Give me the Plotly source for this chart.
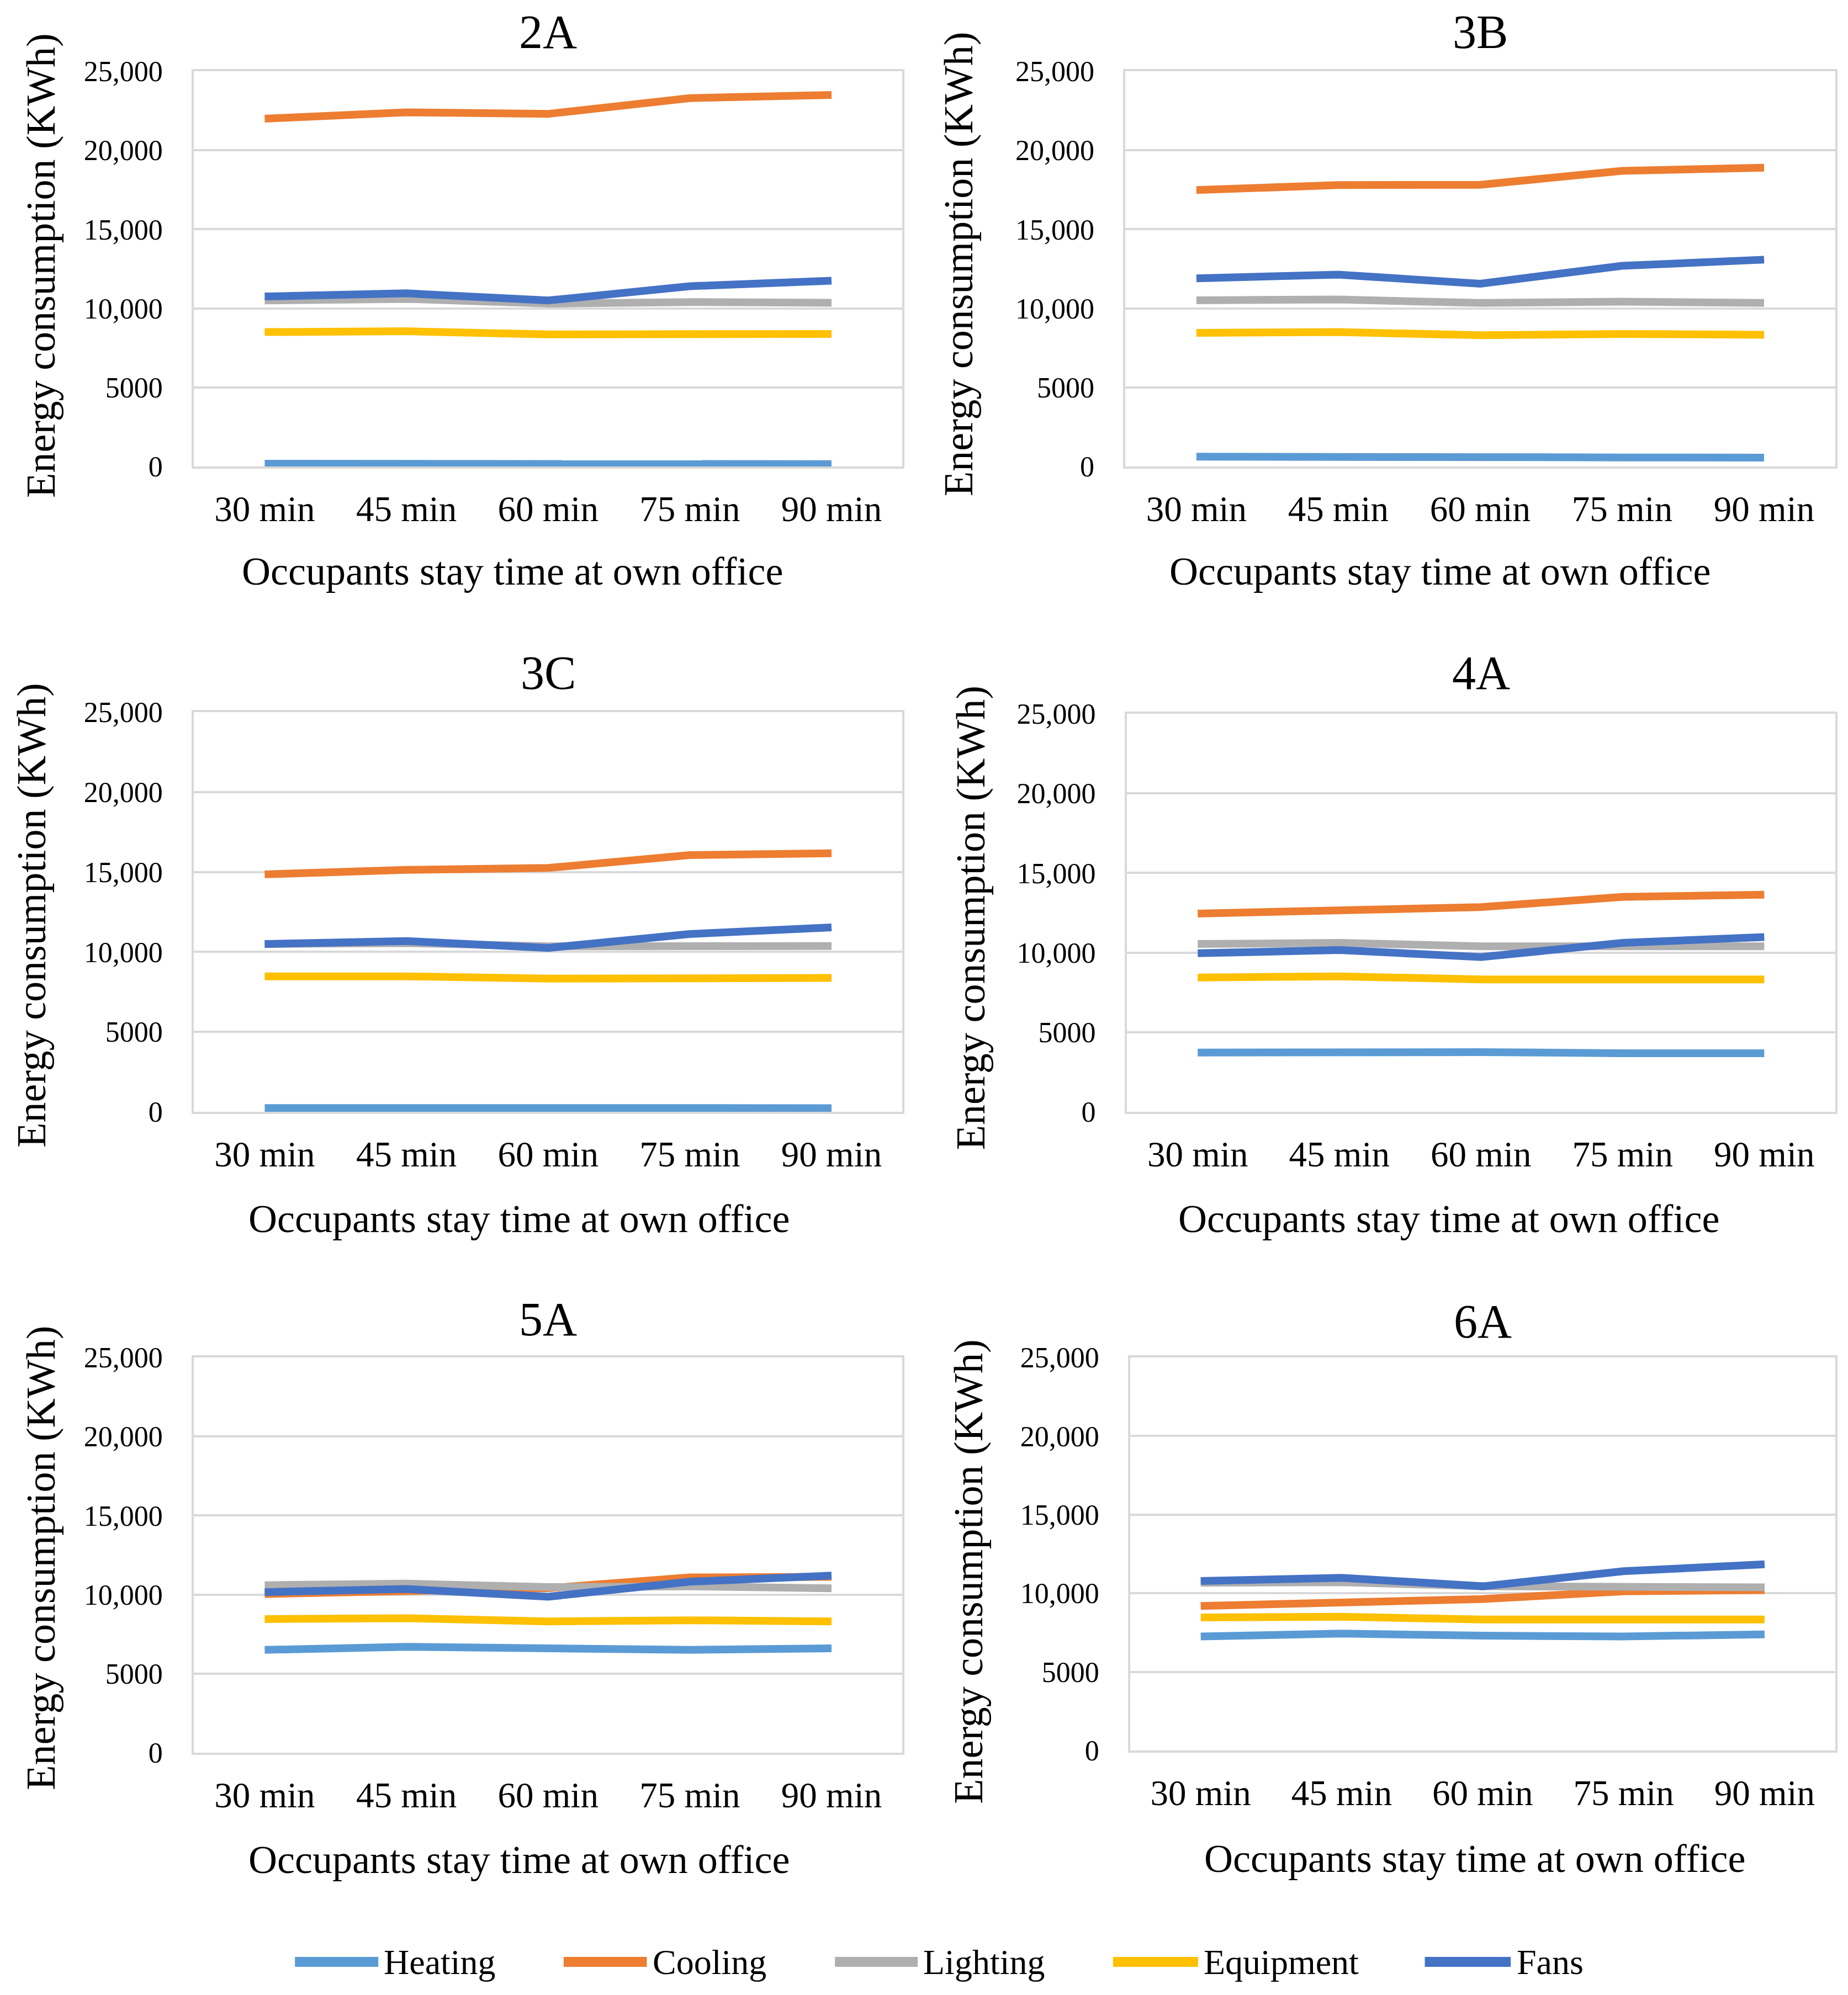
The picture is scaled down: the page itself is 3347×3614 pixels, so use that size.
import plotly.graph_objects as go

# ---------------- data ----------------
categories = ["30 min", "45 min", "60 min", "75 min", "90 min"]
series_names = ["Heating", "Cooling", "Lighting", "Equipment", "Fans"]
panel_titles = ["2A", "3B", "3C", "4A", "5A", "6A"]

heating_2A = [170, 160, 160, 160, 150]
cooling_2A = [22000, 22400, 22300, 23300, 23500]
lighting_2A = [10500, 10600, 10300, 10400, 10350]
equipment_2A = [8500, 8550, 8350, 8420, 8380]
fans_2A = [10750, 10950, 10500, 11400, 11750]

heating_3B = [620, 570, 600, 570, 560]
cooling_3B = [17480, 17800, 17820, 18700, 18900]
lighting_3B = [10510, 10560, 10340, 10420, 10340]
equipment_3B = [8450, 8500, 8300, 8380, 8330]
fans_3B = [11900, 12130, 11560, 12690, 13080]

heating_3C = [240, 230, 230, 230, 230]
cooling_3C = [14850, 15130, 15250, 16050, 16170]
lighting_3C = [10500, 10550, 10350, 10400, 10370]
equipment_3C = [8470, 8470, 8330, 8400, 8370]
fans_3C = [10490, 10680, 10250, 11120, 11530]

heating_4A = [3720, 3750, 3750, 3680, 3680]
cooling_4A = [12450, 12700, 12860, 13500, 13640]
lighting_4A = [10540, 10610, 10400, 10440, 10400]
equipment_4A = [8440, 8510, 8320, 8370, 8320]
fans_4A = [9960, 10160, 9720, 10610, 10980]

heating_5A = [6500, 6690, 6600, 6500, 6600]
cooling_5A = [10030, 10220, 10400, 11080, 11120]
lighting_5A = [10590, 10690, 10470, 10520, 10390]
equipment_5A = [8450, 8500, 8300, 8370, 8300]
fans_5A = [10150, 10350, 9860, 10810, 11200]

heating_6A = [7250, 7430, 7300, 7250, 7380]
cooling_6A = [9190, 9440, 9630, 10120, 10200]
lighting_6A = [10660, 10700, 10440, 10440, 10370]
equipment_6A = [8460, 8500, 8330, 8360, 8330]
fans_6A = [10780, 10980, 10440, 11400, 11840]

y_tick_vals = [0, 5000, 10000, 15000, 20000, 25000]
y_tick_text = ["0", "5000", "10,000", "15,000", "20,000", "25,000"]

x_title = "Occupants stay time at own office"
y_title = "Energy consumption (KWh)"

# ---------------- style ----------------
colors = {
    "Heating": "#5B9BD5",
    "Cooling": "#ED7D31",
    "Lighting": "#AFAFAF",
    "Equipment": "#FFC000",
    "Fans": "#4472C4",
}
FONT = "Liberation Serif, Times New Roman, serif"
W, H = 3347, 3614

panels = {
    "2A": [heating_2A, cooling_2A, lighting_2A, equipment_2A, fans_2A],
    "3B": [heating_3B, cooling_3B, lighting_3B, equipment_3B, fans_3B],
    "3C": [heating_3C, cooling_3C, lighting_3C, equipment_3C, fans_3C],
    "4A": [heating_4A, cooling_4A, lighting_4A, equipment_4A, fans_4A],
    "5A": [heating_5A, cooling_5A, lighting_5A, equipment_5A, fans_5A],
    "6A": [heating_6A, cooling_6A, lighting_6A, equipment_6A, fans_6A],
}

# plot-area domains (paper fractions)
x_domains = {
    "2A": [0.1049, 0.4883], "3B": [0.609, 0.993],
    "3C": [0.1049, 0.4883], "4A": [0.6098, 0.993],
    "5A": [0.1049, 0.4883], "6A": [0.6116, 0.993],
}
y_domains = {
    "2A": [0.7662, 0.9643], "3B": [0.7662, 0.9643],
    "3C": [0.4427, 0.6431], "4A": [0.4427, 0.6422],
    "5A": [0.1215, 0.3196], "6A": [0.1226, 0.3196],
}
title_y = {"2A": 0.984, "3B": 0.984, "3C": 0.6626, "4A": 0.6626,
           "5A": 0.3387, "6A": 0.3375}
xtitle_pos = {"2A": (0.2772, 0.7137), "3B": (0.7793, 0.7137),
              "3C": (0.2807, 0.3891), "4A": (0.7841, 0.3891),
              "5A": (0.2807, 0.0677), "6A": (0.7979, 0.0684)}
ytitle_pos = {"2A": (0.0221, 0.867), "3B": (0.5186, 0.8677),
              "3C": (0.0172, 0.5412), "4A": (0.5255, 0.540),
              "5A": (0.0221, 0.2192), "6A": (0.5241, 0.2121)}

fig = go.Figure()
layout = dict(
    width=W, height=H,
    paper_bgcolor="white", plot_bgcolor="white",
    margin=dict(l=0, r=0, t=0, b=0, autoexpand=False),
    showlegend=False,
    font=dict(family=FONT, color="black"),
    annotations=[], shapes=[],
)

for i, p in enumerate(panel_titles):
    n = "" if i == 0 else str(i + 1)
    xa, ya = "x" + n, "y" + n
    for name, vals in zip(series_names, panels[p]):
        fig.add_trace(go.Scatter(
            x=categories, y=vals, mode="lines", name=name,
            line=dict(color=colors[name], width=14),
            xaxis=xa, yaxis=ya, showlegend=False,
        ))
    layout["xaxis" + n] = dict(
        domain=x_domains[p], anchor=ya, type="category",
        range=[-0.5, 4.5], showgrid=False, zeroline=False, automargin=False,
        showline=True, mirror=True, linecolor="#D9D9D9", linewidth=4,
        ticks="", tickfont=dict(family=FONT, size=65, color="black"),
        ticklabelstandoff=17,
    )
    layout["yaxis" + n] = dict(
        domain=y_domains[p], anchor=xa, range=[0, 25000], automargin=False,
        tickvals=y_tick_vals, ticktext=y_tick_text,
        showgrid=True, gridcolor="#D9D9D9", gridwidth=4, zeroline=False,
        showline=True, mirror=True, linecolor="#D9D9D9", linewidth=4,
        ticks="", tickfont=dict(family=FONT, size=52, color="black"),
        ticklabelstandoff=42,
    )
    # panel title
    layout["annotations"].append(dict(
        text=p, xref="paper", yref="paper",
        x=sum(x_domains[p]) / 2, y=title_y[p], xanchor="center", yanchor="middle",
        showarrow=False, font=dict(family=FONT, size=86, color="black"),
    ))
    # axis titles
    xt = xtitle_pos[p]
    layout["annotations"].append(dict(
        text=x_title, xref="paper", yref="paper", x=xt[0], y=xt[1],
        xanchor="center", yanchor="middle", showarrow=False,
        font=dict(family=FONT, size=72, color="black"),
    ))
    yt = ytitle_pos[p]
    layout["annotations"].append(dict(
        text=y_title, xref="paper", yref="paper", x=yt[0], y=yt[1],
        xanchor="center", yanchor="middle", showarrow=False, textangle=-90,
        font=dict(family=FONT, size=74, color="black"),
    ))

# custom legend (long line samples like the original)
legend_y = 0.0166
legend_sym = [(0.1596, 0.2047), (0.305, 0.350), (0.4518, 0.4966),
              (0.6023, 0.6483), (0.771, 0.8175)]
for name, (x0, x1) in zip(series_names, legend_sym):
    layout["shapes"].append(dict(
        type="line", xref="paper", yref="paper", x0=x0, x1=x1,
        y0=legend_y, y1=legend_y, line=dict(color=colors[name], width=18),
    ))
    layout["annotations"].append(dict(
        text=name, xref="paper", yref="paper", x=x1 + 0.0025, y=legend_y,
        xanchor="left", yanchor="middle", showarrow=False,
        font=dict(family=FONT, size=64, color="black"),
    ))

fig.update_layout(**layout)
fig.write_html("out.html", config={"displayModeBar": False},
               post_script="document.body.style.margin='0';")
